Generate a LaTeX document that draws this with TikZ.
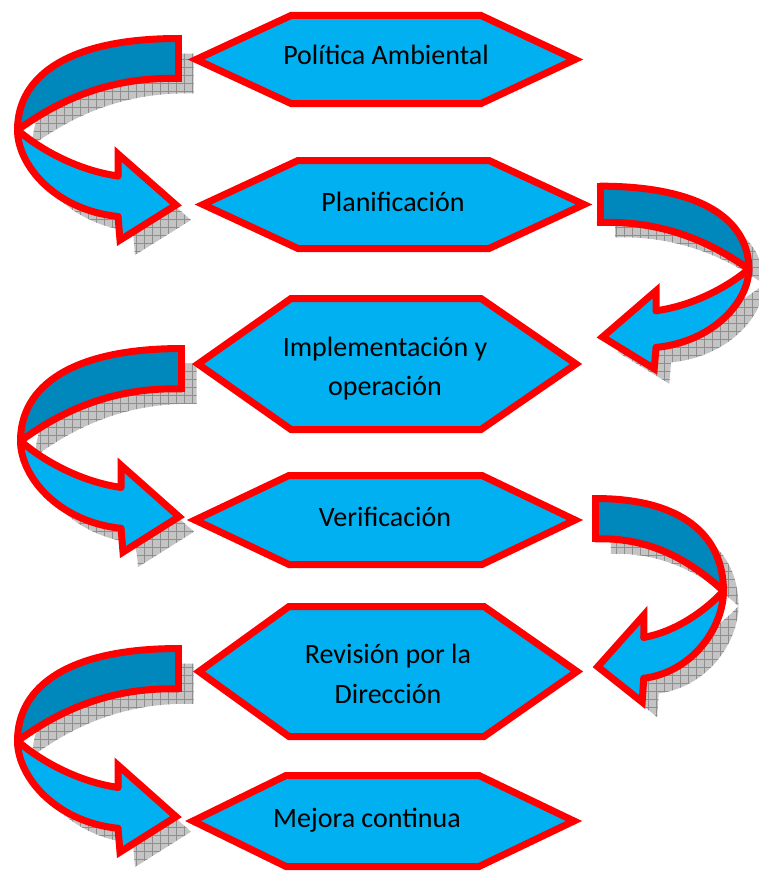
\documentclass[tikz,border=0pt]{standalone}
\usepackage{fontspec}
\setmainfont{Carlito}
\usetikzlibrary{patterns.meta}
\definecolor{hexblue}{HTML}{00B0F0}
\definecolor{darkband}{HTML}{0088BC}
\definecolor{hexred}{HTML}{FF0000}
\definecolor{shadowgray}{HTML}{C4C4C4}
\definecolor{gridgray}{HTML}{8E8E8E}
\tikzset{
  redline/.style={draw=hexred, line width=7pt, line join=miter, miter limit=10},
  curveline/.style={draw=hexred, line width=7pt, line join=round, line cap=round},
  endline/.style={draw=hexred, line width=7pt, line cap=rect},
  headline/.style={draw=hexred, line width=7pt, line join=miter, miter limit=10, line cap=round},
  hexbox/.style={redline, fill=hexblue},
  shadowgrid/.style={pattern={Hatch[angle=0,distance=8pt,line width=0.7pt]}, pattern color=gridgray},
  hextext/.style={font=\fontsize{28}{39.5}\selectfont, text=black, inner sep=0pt, align=center},
}
\newcommand{\darkcurve}{(-3.5,3.5) .. controls (-112,3.5) and (-164.5,40) .. (-164.5,95) .. controls (-140,78) and (-87,41) .. (-3.5,43.5)}
\newcommand{\darkpath}{\darkcurve -- cycle}
\newcommand{\darkend}{(-3.5,43.5) -- (-3.5,3.5)}
\newcommand{\lightcurve}{(-64,141) .. controls (-107,135) and (-145,112) .. (-164.5,95) .. controls (-164.5,130) and (-127,175) .. (-64,181.5)}
\newcommand{\lightpath}{\lightcurve -- (-62,205) -- (-6,170) -- (-64,119) -- cycle}
\newcommand{\lighthead}{(-64,181.5) -- (-62,205) -- (-6,170) -- (-64,119) -- (-64,141)}
\newcommand{\arrshadow}[4]{%
  \begin{scope}[shift={(#1+15,#2+15)}, xscale=#3, yscale=#4]
    \fill[shadowgray] \darkpath;
    \fill[shadowgray] \lightpath;
    \path[shadowgrid] \darkpath;
    \path[shadowgrid] \lightpath;
  \end{scope}}
\newcommand{\arrbody}[4]{%
  \begin{scope}[shift={(#1,#2)}, xscale=#3, yscale=#4]
    \fill[darkband] \darkpath;
    \draw[curveline] \darkcurve;
    \draw[endline] \darkend;
    \fill[hexblue] \lightpath;
    \draw[curveline] \lightcurve;
    \draw[headline] \lighthead;
  \end{scope}}
\newcommand{\hexshape}[6]{\draw[hexbox] (#1,{(#5+#6)/2}) -- (#2,#5) -- (#3,#5) -- (#4,{(#5+#6)/2}) -- (#3,#6) -- (#2,#6) -- cycle;}
\begin{document}
\begin{tikzpicture}[x=1pt,y=-1pt]
\useasboundingbox (0,0) rectangle (758,875);
% shadows
\arrshadow{182}{35}{1}{1}
\arrshadow{597}{183}{-0.923}{0.906}
\arrshadow{185}{345}{1}{1.01}
\arrshadow{593}{495}{-0.793}{1.01}
\arrshadow{182}{645}{1}{1.01}
% hexagons
\hexshape{196}{291}{481}{575}{15.5}{103.5}
\hexshape{203}{298}{489}{584}{160.5}{248.5}
\hexshape{198}{291}{481}{576}{298.5}{429.5}
\hexshape{195}{289}{482}{575}{475.5}{564.5}
\hexshape{199}{289}{484}{577}{606.5}{736.5}
\hexshape{193}{286}{479}{574}{775.5}{866.5}
\node[hextext, anchor=base] (h1) at (386,64.3) {Política Ambiental};
\node[hextext, anchor=base] (h2) at (393,211) {Planificación};
\node[hextext, anchor=base] (h3) at (385,395.5) {Implementación y\\operación};
\node[hextext, anchor=base] (h4) at (385,526) {Verificación};
\node[hextext, anchor=base] (h5) at (388,703) {Revisión por la\\Dirección};
\node[hextext, anchor=base] (h6) at (367,827) {Mejora continua};
% arrows
\arrbody{182}{35}{1}{1}
\arrbody{597}{183}{-0.923}{0.906}
\arrbody{185}{345}{1}{1.01}
\arrbody{593}{495}{-0.793}{1.01}
\arrbody{182}{645}{1}{1.01}
\end{tikzpicture}
\end{document}
